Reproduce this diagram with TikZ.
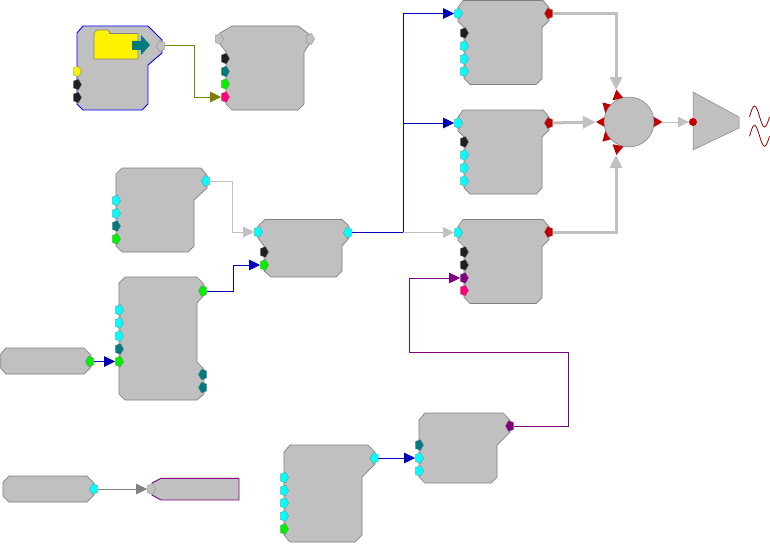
\documentclass[tikz,border=0pt]{standalone}
\usetikzlibrary{arrows.meta,shapes.geometric}
\definecolor{blockgray}{HTML}{C0C0C0}
\definecolor{edgegray}{HTML}{808080}
\definecolor{wireblue}{HTML}{0000B8}
\definecolor{wireolive}{HTML}{808000}
\definecolor{wirepurple}{HTML}{800080}
\definecolor{portcyan}{HTML}{00FFFF}
\definecolor{portteal}{HTML}{007B80}
\definecolor{portblack}{HTML}{202020}
\definecolor{portgreen}{HTML}{00F000}
\definecolor{portpink}{HTML}{FF0080}
\definecolor{portred}{HTML}{C00000}
\begin{document}
\begin{tikzpicture}[x=1pt, y=-1pt, >={Triangle[length=11pt,width=10.5pt]}]
    \tikzset{
        block/.style={draw=edgegray, fill=blockgray, line width=.7pt},
        inport/.style={regular polygon, regular polygon sides=5, shape border rotate=-90, minimum size=11.5pt, inner sep=0pt, xscale=.8, transform shape, draw=edgegray, line width=.3pt, fill=#1},
        outport/.style={inport=#1, shape border rotate=90},
        sumport/.style={regular polygon, regular polygon sides=3, minimum size=13pt, inner sep=0pt, fill=portred},
        wire/.style={line width=1pt, ->},
        thickwire/.style={draw=blockgray, line width=3pt, ->, >={Triangle[length=13pt,width=12pt]}}
    }
    \useasboundingbox (0,0) rectangle (770,543);

    % blocks
    \draw[block, draw=blue, line width=.9pt] (83,26) -- (148,26) -- (162,40) -- (162,53) -- (148,65) -- (148,104) -- (142,110) -- (83,110) -- (77,104) -- (77,33) -- cycle;
    \draw[block] (232,26) -- (298,26) -- (310,35) -- (310,43) -- (304,52) -- (304,104) -- (298,110) -- (232,110) -- (226,104) -- (226,52) -- (220,44) -- (220,33) -- cycle;
    \foreach \yo in {0.5,110,219.5} {
        \draw[block, shift={(0,\yo)}] (463,0) -- (543,0) -- (549,7) -- (549,20) -- (542,27) -- (542,78) -- (536,84) -- (470,84) -- (464,78) -- (464,27) -- (458,21) -- (458,7) -- cycle;
    }
    \draw[block] (122,168) -- (201,168) -- (207,175) -- (207,188) -- (194,200) -- (194,246) -- (188,252) -- (122,252) -- (116,246) -- (116,174) -- cycle;
    \draw[block] (265,219.5) -- (342,219.5) -- (349,226) -- (349,238) -- (342,246) -- (342,271) -- (336,277) -- (271,277) -- (264,271) -- (264,246) -- (258,238) -- (258,226) -- cycle;
    \draw[block] (125,277) -- (197,277) -- (204,284) -- (204,295) -- (197,303) -- (197,362) -- (204,369) -- (204,394) -- (197,400) -- (125,400) -- (119,394) -- (119,283) -- cycle;
    \draw[block] (6,348) -- (84,348) -- (91,355) -- (91,367) -- (84,374) -- (6,374) -- (.7,368) -- (.7,354) -- cycle;
    \draw[block] (9,476) -- (87,476) -- (94,483) -- (94,495) -- (87,502) -- (9,502) -- (3,496) -- (3,482) -- cycle;
    \draw[block, draw=wirepurple, line width=.9pt] (161,478.3) -- (239,478.3) -- (239,500) -- (161,500) -- (152,495) -- (152,483) -- cycle;
    \draw[block] (290,445) -- (368,445) -- (375,452) -- (375,464) -- (362,477) -- (362,535) -- (355,542) -- (290,542) -- (284,535) -- (284,452) -- cycle;
    \draw[block] (425,413) -- (503,413) -- (510,420) -- (510,432) -- (497,445) -- (497,477) -- (491,483) -- (425,483) -- (419,477) -- (419,420) -- cycle;

    % folder icon
    \draw[fill=yellow, draw=edgegray, line width=.7pt] (94,59) -- (94,33) -- (97,30) -- (108,30) -- (110,33.5) -- (138,33.5) -- (138,59) -- cycle;
    \fill[portteal] (132,41) -- (141,41) -- (141,35) -- (150,45) -- (141,55) -- (141,50) -- (132,50) -- cycle;

    % speaker with sine waves
    \draw[block, line width=.5pt] (693,92) -- (739,117) -- (739,128) -- (693,150) -- cycle;
    \foreach \yo in {0,19.3} {
        \draw[portred!80!black, line width=.8pt, shift={(0,\yo)}] (749.5,117) sin (754.5,106) cos (759.5,116.5) sin (764.5,127) cos (769.5,117);
    }

    % ports
    \node[outport=blockgray] (folderout) at (161,46) {};
    \node[inport=yellow] (folderyellow) at (77,71.5) {};
    \node[inport=portblack] (folderblacka) at (77,84.5) {};
    \node[inport=portblack] (folderblackb) at (77,97.5) {};
    \node[inport=blockgray] (gainin) at (219,39) {};
    \node[inport=blockgray] (gainout) at (310,39) {};
    \node[inport=portblack] (gainblack) at (225,58.5) {};
    \node[inport=portteal] (gainteal) at (225,71.5) {};
    \node[inport=portgreen] (gaingreen) at (225,84) {};
    \node[inport=portpink] (gainpink) at (225,97) {};

    \node[inport=portcyan] (oscain) at (458,13.5) {};
    \node[inport=portblack] (oscablack) at (464,33) {};
    \node[inport=portcyan] (oscab) at (464,46) {};
    \node[inport=portcyan] (oscac) at (464,59) {};
    \node[inport=portcyan] (oscad) at (464,71.5) {};
    \node[outport=portred] (oscaout) at (549,13.5) {};
    \node[inport=portcyan] (oscbin) at (458,123) {};
    \node[inport=portblack] (oscbblack) at (464,142) {};
    \node[inport=portcyan] (oscbb) at (464,155) {};
    \node[inport=portcyan] (oscbc) at (464,168) {};
    \node[inport=portcyan] (oscbd) at (464,181) {};
    \node[outport=portred] (oscbout) at (549,123) {};
    \node[inport=portcyan] (osccin) at (458,232.5) {};
    \node[inport=portblack] (osccblacka) at (464,252) {};
    \node[inport=portblack] (osccblackb) at (464,265) {};
    \node[inport=wirepurple] (osccmod) at (464,278) {};
    \node[inport=portpink] (osccpink) at (464,290.5) {};
    \node[outport=portred] (osccout) at (549,232) {};

    \node[inport=portcyan] (lfoa) at (116,200.5) {};
    \node[inport=portcyan] (lfob) at (116,213.5) {};
    \node[inport=portteal] (lfoc) at (116,226) {};
    \node[inport=portgreen] (lfod) at (116,239) {};
    \node[outport=portcyan] (lfoout) at (206,181) {};

    \node[inport=portcyan] (mixin) at (258,232) {};
    \node[outport=portcyan] (mixout) at (348,232.5) {};
    \node[inport=portblack] (mixblack) at (264,252) {};
    \node[inport=portgreen] (mixgreen) at (264,265) {};

    \node[inport=portcyan] (envcyana) at (119,310) {};
    \node[inport=portcyan] (envcyanb) at (119,323) {};
    \node[inport=portcyan] (envcyanc) at (119,336) {};
    \node[inport=portteal] (envteal) at (119,349) {};
    \node[inport=portgreen] (envin) at (119,361.5) {};
    \node[outport=portgreen] (envout) at (203,291) {};
    \node[outport=portteal] (envteala) at (203,374.5) {};
    \node[outport=portteal] (envtealb) at (203,387.5) {};

    \node[outport=portgreen] (trigout) at (90,361.5) {};
    \node[outport=portcyan] (dataout) at (94,489) {};
    \node[inport=blockgray] (sinkin) at (151,489) {};

    \node[inport=portcyan] (seqa) at (284,477.5) {};
    \node[inport=portcyan] (seqb) at (284,490.5) {};
    \node[inport=portcyan] (seqc) at (284,503) {};
    \node[inport=portcyan] (seqd) at (284,516) {};
    \node[inport=portgreen] (seqe) at (284,529) {};
    \node[outport=portcyan] (seqout) at (374.5,458) {};

    \node[inport=portteal] (convteal) at (419,445) {};
    \node[inport=portcyan] (convin) at (419,458) {};
    \node[inport=portcyan] (convcyan) at (419,471) {};
    \node[outport=wirepurple] (convout) at (510,426) {};

    % summing junction
    \node[sumport, shape border rotate=10] (sumtop) at (617.5,96) {};
    \node[sumport, shape border rotate=45] (sumul) at (607,107) {};
    \node[sumport, shape border rotate=90] (sumleft) at (602.5,122) {};
    \node[sumport, shape border rotate=135] (sumll) at (607,137) {};
    \node[sumport, shape border rotate=170] (sumbot) at (617.5,148.5) {};
    \node[sumport, shape border rotate=-90] (sumout) at (656,122) {};
    \node[circle, draw=edgegray, fill=blockgray, line width=.5pt, minimum size=50pt, inner sep=0pt] (sum) at (629,122) {};
    \node[circle, fill=portred, minimum size=8pt, inner sep=0pt] (ampin) at (693,122) {};

    % connectors
    \coordinate (foldercorner) at (194,46);
    \coordinate (branch) at (403,232.5);
    \coordinate (lfocorner) at (232,181);
    \coordinate (envcorner) at (233,291);
    \coordinate (sumtopin) at (616,90);
    \coordinate (sumbotin) at (616,155);
    \coordinate (loopa) at (568,426);
    \coordinate (loopb) at (568,352);
    \coordinate (loopc) at (409,352);

    \draw[wire, draw=wireolive] (folderout) -- (foldercorner) |- (gainpink);
    \draw[wire, draw=wireblue, -] (mixout) -- (branch);
    \draw[wire, draw=wireblue] (branch) |- (oscain);
    \draw[wire, draw=wireblue] (branch) |- (oscbin);
    \draw[wire, draw=blockgray] (branch) -- (osccin);
    \draw[wire, draw=blockgray] (lfoout) -- (lfocorner) |- (mixin);
    \draw[wire, draw=wireblue] (envout) -- (envcorner) |- (mixgreen);
    \draw[wire, draw=wireblue] (trigout) -- (envin);
    \draw[wire, draw=edgegray] (dataout) -- (sinkin);
    \draw[wire, draw=wireblue] (seqout) -- (convin);
    \draw[wire, draw=wirepurple] (convout) -- (loopa) -- (loopb) -- (loopc) |- (osccmod);
    \draw[thickwire] (oscaout) -| (sumtopin);
    \draw[thickwire] (oscbout) -- (sumleft);
    \draw[thickwire] (osccout) -| (sumbotin);
    \draw[wire, draw=blockgray] (sumout) -- (ampin);
\end{tikzpicture}
\end{document}
